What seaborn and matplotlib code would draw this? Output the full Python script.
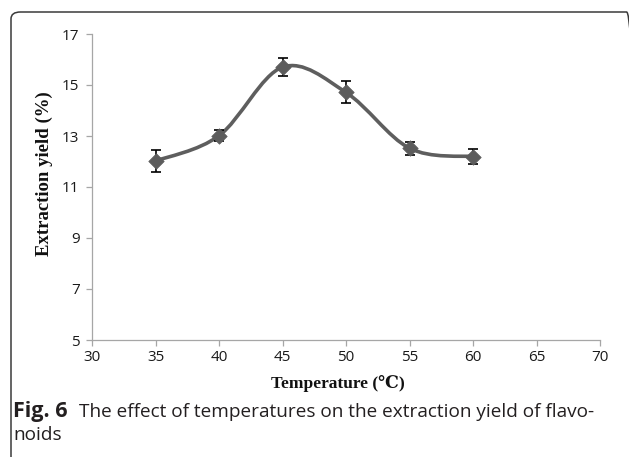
import numpy as np
import matplotlib
matplotlib.use("Agg")
import matplotlib.pyplot as plt
from matplotlib.path import Path
from matplotlib.patches import PathPatch, FancyBboxPatch
import seaborn as sns
import pandas as pd

# ---- data ----
temperature = [35, 40, 45, 50, 55, 60]
yield_pct = [12.02, 13.01, 15.70, 14.71, 12.52, 12.19]
yield_err = [0.42, 0.22, 0.35, 0.43, 0.25, 0.29]
x_ticks = [30, 35, 40, 45, 50, 55, 60, 65, 70]
y_ticks = [5, 7, 9, 11, 13, 15, 17]
x_label = "Temperature (\u2103)"
y_label = "Extraction yield (%)"
caption_bold = "Fig. 6"
caption_rest = "The effect of temperatures on the extraction yield of flavo-"
caption_line2 = "noids"

sns.set_theme(style="white")
plt.rcParams['font.family'] = ['Open Sans', 'DejaVu Sans']

W, H = 629, 457
fig = plt.figure(figsize=(W / 100, H / 100), dpi=100)
ax = fig.add_axes([92 / W, 1 - 340 / H, (600 - 92) / W, (340 - 34) / H])

df = pd.DataFrame({"t": temperature, "y": yield_pct, "e": yield_err})

# smoothed line (Excel-style Catmull-Rom Bezier through the data points)
pts = np.column_stack([temperature, yield_pct]).astype(float)
verts = [tuple(pts[0])]
codes = [Path.MOVETO]
n = len(pts)
for i in range(n - 1):
    p0 = pts[i - 1] if i > 0 else pts[i]
    p1 = pts[i]
    p2 = pts[i + 1]
    p3 = pts[i + 2] if i + 2 < n else pts[i + 1]
    c1 = p1 + (p2 - p0) / 6.0
    c2 = p2 - (p3 - p1) / 6.0
    verts += [tuple(c1), tuple(c2), tuple(p2)]
    codes += [Path.CURVE4] * 3
ax.add_patch(PathPatch(Path(verts, codes), facecolor="none", edgecolor="#5e5e5e",
                       lw=2.6, zorder=2, capstyle="round", joinstyle="round"))

ax.errorbar(df["t"], df["y"], yerr=df["e"], fmt="none", ecolor="black",
            elinewidth=1.2, capsize=3.5, capthick=1.2, zorder=3)
sns.scatterplot(data=df, x="t", y="y", marker="D", s=62, color="#5c5c5c",
                edgecolor="#5c5c5c", linewidth=0.5, ax=ax, zorder=4, legend=False)

ax.set_xlim(30, 70)
ax.set_ylim(5, 17)
ax.set_xticks(x_ticks)
ax.set_yticks(y_ticks)
ax.tick_params(axis="both", which="major", direction="out", length=4, width=0.9,
               color="#a6a6a6", labelsize=11, labelcolor="#1a1a1a", bottom=True, left=True)
ax.tick_params(axis="x", pad=3)
ax.tick_params(axis="y", pad=5)
for s in ["top", "right"]:
    ax.spines[s].set_visible(False)
for s in ["left", "bottom"]:
    ax.spines[s].set_color("#a6a6a6")
    ax.spines[s].set_linewidth(0.9)

serif = ['Liberation Serif', 'DejaVu Serif']
ax.set_xlabel(x_label, family=serif, fontweight="bold", fontsize=12.5, color="#111111")
ax.set_ylabel(y_label, family=serif, fontweight="bold", fontsize=13.5, color="#111111")
ax.xaxis.set_label_coords((337.5 - 92) / 508, (340 - 375) / 306)
ax.yaxis.set_label_coords((53 - 92) / 508, (340 - 174) / 306)
ax.patch.set_alpha(0)

# caption
cap_font = ['Open Sans', 'DejaVu Sans']
fig.text(13 / W, 1 - 417 / H, caption_bold, family=cap_font, fontweight="bold",
         fontsize=15.5, color="#231f20", va="baseline")
fig.text(79 / W, 1 - 417 / H, caption_rest, family=cap_font, fontweight="normal",
         fontsize=13.7, color="#231f20", va="baseline")
fig.text(13 / W, 1 - 440 / H, caption_line2, family=cap_font, fontweight="normal",
         fontsize=13.7, color="#231f20", va="baseline")

# rounded frame
frame = FancyBboxPatch((11 / W, -30 / H), (636 - 11) / W, (457 - 12 + 30) / H,
                       boxstyle="round,pad=0,rounding_size=0.015", transform=fig.transFigure,
                       facecolor="none", edgecolor="#3a3a3a", lw=1.1, zorder=0)
fig.patches.append(frame)

fig.savefig("out.png", dpi=100)
